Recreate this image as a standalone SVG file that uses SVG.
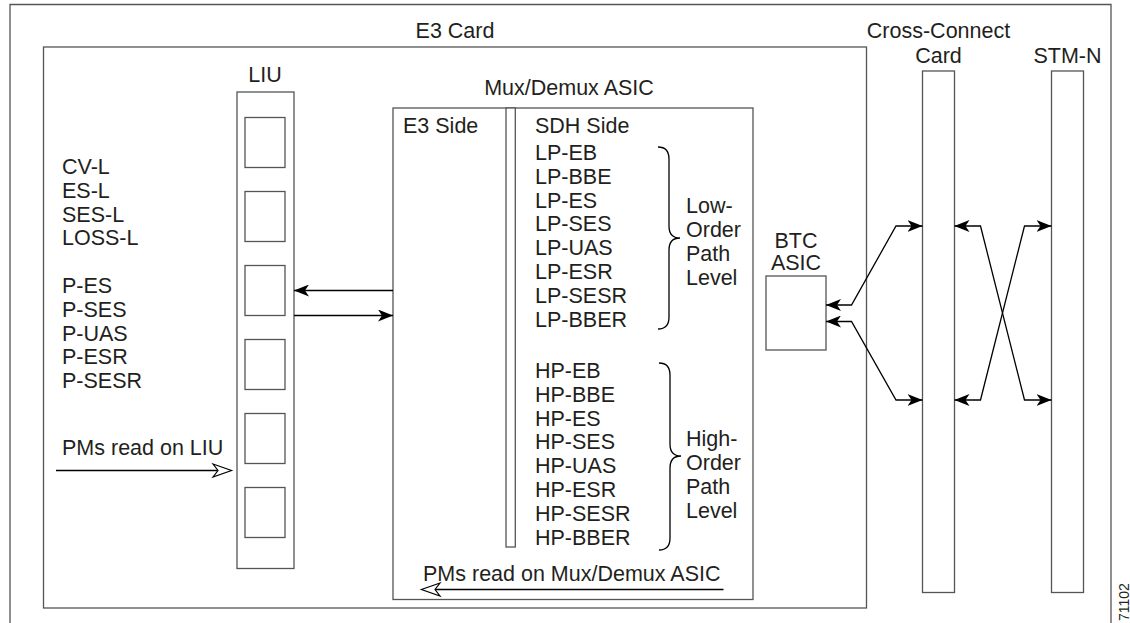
<svg xmlns="http://www.w3.org/2000/svg" width="1130" height="623" viewBox="0 0 1130 623">
  <defs>
    <style>
      .t { font-family: "Liberation Sans", Arial, Helvetica, sans-serif; font-size: 21.5px; fill: #231f20; }
      .mid { text-anchor: middle; }
      .box { fill: #ffffff; stroke: #555555; stroke-width: 1.3; }
      .frame { fill: none; stroke: #555555; stroke-width: 1.3; }
      .wire { fill: none; stroke: #000000; stroke-width: 1.3; }
      .open { fill: #ffffff; stroke: #000000; stroke-width: 1.2; stroke-linejoin: miter; }
      .tag { font-family: "Liberation Sans", Arial, Helvetica, sans-serif; font-size: 14px; fill: #231f20; }
    </style>
    <marker id="head" viewBox="0 0 15 12" refX="15" refY="6" markerWidth="15" markerHeight="12" markerUnits="userSpaceOnUse" orient="auto-start-reverse">
      <path d="M0,0 L15,6 L0,12 L4,6 Z" fill="#000000"/>
    </marker>
  </defs>

  <rect width="1130" height="623" fill="#ffffff"/>

  <!-- outer frame, open at the bottom edge -->
  <path class="frame" d="M10,623 V4.5 H1111 V623"/>
  <text class="tag" transform="translate(1129,621) rotate(-90)">71102</text>

  <!-- E3 card -->
  <g id="e3-card">
    <rect class="frame" x="43.5" y="47" width="823" height="561"/>
    <text class="t mid" x="455" y="37.5">E3 Card</text>
  </g>

  <!-- line-side PM list -->
  <g id="liu-pms">
    <text class="t" x="62" y="174">CV-L</text>
    <text class="t" x="62" y="197.8">ES-L</text>
    <text class="t" x="62" y="221.6">SES-L</text>
    <text class="t" x="62" y="245.4">LOSS-L</text>
    <text class="t" x="62" y="293">P-ES</text>
    <text class="t" x="62" y="316.8">P-SES</text>
    <text class="t" x="62" y="340.6">P-UAS</text>
    <text class="t" x="62" y="364.4">P-ESR</text>
    <text class="t" x="62" y="388.2">P-SESR</text>
    <text class="t" x="62" y="455">PMs read on LIU</text>
  </g>

  <!-- LIU with its six ports -->
  <g id="liu">
    <text class="t mid" x="265" y="82">LIU</text>
    <rect class="box" x="237" y="92" width="57" height="476.5"/>
    <rect class="box" x="245" y="117.5" width="40" height="50"/>
    <rect class="box" x="245" y="191.5" width="40" height="50"/>
    <rect class="box" x="245" y="265.5" width="40" height="50"/>
    <rect class="box" x="245" y="339.5" width="40" height="50"/>
    <rect class="box" x="245" y="413.5" width="40" height="50"/>
    <rect class="box" x="245" y="487.5" width="40" height="50"/>
  </g>

  <!-- Mux/Demux ASIC -->
  <g id="mux-demux-asic">
    <text class="t mid" x="569" y="95">Mux/Demux ASIC</text>
    <rect class="box" x="393" y="108" width="360" height="491.5"/>
    <rect class="box" x="506" y="108" width="9.3" height="439"/>
    <text class="t" x="403" y="132.5">E3 Side</text>
    <text class="t" x="535" y="132.5">SDH Side</text>
    <text class="t" x="423" y="580.5">PMs read on Mux/Demux ASIC</text>
  </g>

  <!-- low-order path PMs -->
  <g id="low-order-path">
    <text class="t" x="535" y="160">LP-EB</text>
    <text class="t" x="535" y="183.8">LP-BBE</text>
    <text class="t" x="535" y="207.6">LP-ES</text>
    <text class="t" x="535" y="231.4">LP-SES</text>
    <text class="t" x="535" y="255.2">LP-UAS</text>
    <text class="t" x="535" y="279">LP-ESR</text>
    <text class="t" x="535" y="302.8">LP-SESR</text>
    <text class="t" x="535" y="326.6">LP-BBER</text>
    <path class="wire" d="M658,147 C666,147 669,151 669,159 L669,226 C669,234 673,238 680,238 C673,238 669,242 669,250 L669,317 C669,325 666,329 658,329"/>
    <text class="t" x="686" y="213">Low-</text>
    <text class="t" x="686" y="237">Order</text>
    <text class="t" x="686" y="261">Path</text>
    <text class="t" x="686" y="285">Level</text>
  </g>

  <!-- high-order path PMs -->
  <g id="high-order-path">
    <text class="t" x="535" y="378">HP-EB</text>
    <text class="t" x="535" y="401.8">HP-BBE</text>
    <text class="t" x="535" y="425.6">HP-ES</text>
    <text class="t" x="535" y="449.4">HP-SES</text>
    <text class="t" x="535" y="473.2">HP-UAS</text>
    <text class="t" x="535" y="497">HP-ESR</text>
    <text class="t" x="535" y="520.8">HP-SESR</text>
    <text class="t" x="535" y="544.6">HP-BBER</text>
    <path class="wire" d="M659,363 C667,363 670,367 670,375 L670,444 C670,452 674,456 681,456 C674,456 670,460 670,468 L670,538 C670,546 667,550 659,550"/>
    <text class="t" x="686" y="446">High-</text>
    <text class="t" x="686" y="470">Order</text>
    <text class="t" x="686" y="494">Path</text>
    <text class="t" x="686" y="518">Level</text>
  </g>

  <!-- BTC ASIC -->
  <g id="btc-asic">
    <text class="t mid" x="796" y="247.5">BTC</text>
    <text class="t mid" x="796" y="269.5">ASIC</text>
    <rect class="box" x="766" y="276" width="60" height="74"/>
  </g>

  <!-- Cross-Connect card -->
  <g id="cross-connect-card">
    <text class="t mid" x="938.5" y="37.5">Cross-Connect</text>
    <text class="t mid" x="938.5" y="62.5">Card</text>
    <rect class="box" x="922.5" y="71" width="32" height="521.5"/>
  </g>

  <!-- STM-N card -->
  <g id="stm-n">
    <text class="t mid" x="1067.5" y="62.5">STM-N</text>
    <rect class="box" x="1051.5" y="71" width="32" height="521.5"/>
  </g>

  <!-- connectors -->
  <g id="connectors">
    <line class="wire" x1="393" y1="290.5" x2="294" y2="290.5" marker-end="url(#head)"/>
    <line class="wire" x1="294" y1="315.5" x2="393" y2="315.5" marker-end="url(#head)"/>

    <polyline class="wire" points="826,305 851.5,305 896,226 922.5,226" marker-start="url(#head)" marker-end="url(#head)"/>
    <polyline class="wire" points="826,321.5 851.5,321.5 896,400 922.5,400" marker-start="url(#head)" marker-end="url(#head)"/>

    <polyline class="wire" points="954.5,226 980.5,226 1024.5,400 1051.5,400" marker-start="url(#head)" marker-end="url(#head)"/>
    <polyline class="wire" points="954.5,400 980.5,400 1024.5,226 1051.5,226" marker-start="url(#head)" marker-end="url(#head)"/>

    <!-- PM read direction arrows with open heads -->
    <line class="wire" x1="56" y1="470.5" x2="218" y2="470.5"/>
    <path class="open" d="M213,464 L231.5,470.5 L213,477 L218,470.5 Z"/>
    <line class="wire" x1="723.5" y1="589.5" x2="435" y2="589.5"/>
    <path class="open" d="M440,583 L421.5,589.5 L440,596 L435,589.5 Z"/>
  </g>
</svg>
